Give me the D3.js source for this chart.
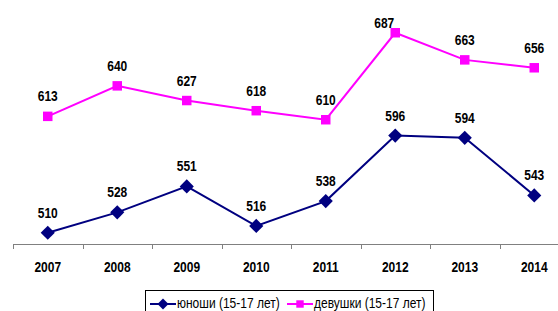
<!DOCTYPE html>
<html>
<head>
<meta charset="utf-8">
<script src="https://cdn.jsdelivr.net/npm/d3@7"></script>
<style>
  body { margin: 0; background: #fff; }
  svg { display: block; font-family: "Liberation Sans", Arial, sans-serif; }
</style>
</head>
<body>
<svg width="558" height="311"></svg>
<script>
var years = ["2007", "2008", "2009", "2010", "2011", "2012", "2013", "2014"];
var boys = [510, 528, 551, 516, 538, 596, 594, 543];
var girls = [613, 640, 627, 618, 610, 687, 663, 656];
var seriesNames = ["юноши (15-17 лет)", "девушки (15-17 лет)"];

var svg = d3.select("svg");

var x = d3.scaleBand()
    .domain(years)
    .range([13, 569])
    .paddingInner(0)
    .paddingOuter(0);

var y = d3.scaleLinear()
    .domain([500, 716])
    .range([244, 0]);

// excel text looks a bit stretched vertically
var stretch = 1.16;
function place(px, py) { return "translate(" + px + "," + py + ") scale(1," + stretch + ")"; }

// diamond = square turned 45deg
var diamond = {
  draw: function(ctx, size) {
    var r = Math.sqrt(size / 2);
    ctx.moveTo(0, -r); ctx.lineTo(r, 0); ctx.lineTo(0, r); ctx.lineTo(-r, 0); ctx.closePath();
  }
};

var axis = svg.append("g").attr("class", "axis");
axis.append("line")
    .attr("x1", x.range()[0]).attr("x2", x.range()[1])
    .attr("y1", y(500) + 0.5).attr("y2", y(500) + 0.5)
    .attr("stroke", "#808080").attr("stroke-width", 1);
axis.selectAll("line.tick")
  .data(years)
  .enter().append("line")
    .attr("class", "tick")
    .attr("x1", function(d) { return Math.round(x(d)) + 0.5; })
    .attr("x2", function(d) { return Math.round(x(d)) + 0.5; })
    .attr("y1", y(500)).attr("y2", y(500) + 5)
    .attr("stroke", "#808080");
axis.selectAll("text")
  .data(years)
  .enter().append("text")
    .attr("transform", function(d) { return place(x(d) + x.bandwidth() / 2, 272); })
    .attr("text-anchor", "middle")
    .attr("font-size", 12)
    .attr("font-weight", "bold")
    .text(function(d) { return d; });

var cx = function(d, i) { return x(years[i]) + x.bandwidth() / 2; };

var line = d3.line()
    .x(function(d, i) { return cx(d, i); })
    .y(function(d) { return y(d); });

function drawSeries(data, color, shape, size) {
  var g = svg.append("g");
  g.append("path")
      .datum(data)
      .attr("d", line)
      .attr("fill", "none")
      .attr("stroke", color)
      .attr("stroke-width", 2);
  g.selectAll("path.mark")
    .data(data)
    .enter().append("path")
      .attr("class", "mark")
      .attr("transform", function(d, i) { return "translate(" + cx(d, i) + "," + y(d) + ")"; })
      .attr("d", d3.symbol().type(shape).size(size))
      .attr("fill", color);
  g.selectAll("text")
    .data(data)
    .enter().append("text")
      .attr("transform", function(d, i) {
        var ly = y(d) - 15;
        // label pushed down/left when it would leave the top
        if (ly < 28) return place(cx(d, i) - 11, 28);
        return place(cx(d, i), ly);
      })
      .attr("text-anchor", "middle")
      .attr("font-size", 12)
      .attr("font-weight", "bold")
      .attr("fill", "#000")
      .text(function(d) { return d; });
}

drawSeries(girls, "#ff00ff", d3.symbolSquare, 90);
drawSeries(boys, "#000080", diamond, 100);

// legend
var legend = svg.append("g");
legend.append("rect")
    .attr("x", 145.5).attr("y", 290.5)
    .attr("width", 288).attr("height", 30)
    .attr("fill", "#fff")
    .attr("stroke", "#000");
var items = [
  {name: seriesNames[0], color: "#000080", shape: diamond, size: 60, x0: 150},
  {name: seriesNames[1], color: "#ff00ff", shape: d3.symbolSquare, size: 55, x0: 287}
];
items.forEach(function(it) {
  legend.append("line")
      .attr("x1", it.x0).attr("x2", it.x0 + 26)
      .attr("y1", 304).attr("y2", 304)
      .attr("stroke", it.color).attr("stroke-width", 2);
  legend.append("path")
      .attr("transform", "translate(" + (it.x0 + 13) + ",304)")
      .attr("d", d3.symbol().type(it.shape).size(it.size))
      .attr("fill", it.color);
  legend.append("text")
      .attr("transform", place(it.x0 + 27, 308))
      .attr("font-size", 12)
      .text(it.name);
});
</script>
</body>
</html>
